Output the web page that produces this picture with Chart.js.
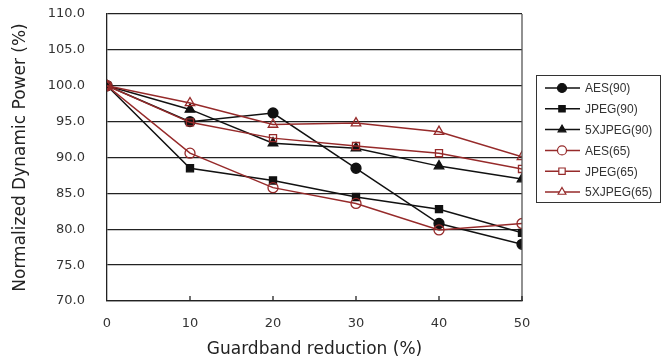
<!DOCTYPE html>
<html>
<head>
<meta charset="utf-8">
<script src="https://cdn.jsdelivr.net/npm/chart.js@4/dist/chart.umd.min.js"></script>
<style>
  html, body { margin: 0; padding: 0; background: #fff; }
  #wrap { width: 669px; height: 364px; }
</style>
</head>
<body>
<div id="wrap"><canvas id="powerChart" width="669" height="364"></canvas></div>
<script>
const xValues = [0, 10, 20, 30, 40, 50];
const aes90 = [100, 95.0, 96.2, 88.5, 80.8, 77.9];
const jpeg90 = [100, 88.5, 86.8, 84.5, 82.8, 79.5];
const xjpeg90 = [100, 96.7, 92.0, 91.3, 88.8, 87.0];
const aes65 = [100, 90.6, 85.8, 83.6, 79.9, 80.8];
const jpeg65 = [100, 94.9, 92.7, 91.6, 90.6, 88.4];
const xjpeg65 = [100, 97.6, 94.6, 94.8, 93.6, 90.1];
const seriesNames = ["AES(90)", "JPEG(90)", "5XJPEG(90)", "AES(65)", "JPEG(65)", "5XJPEG(65)"];

const BLACK = "#111";
const RED = "#962a2a";
const FONT = "'DejaVu Sans', sans-serif";
const LEG_FONT = "'Liberation Sans', Arial, sans-serif";

function series(label, values, color, style, filled, order) {
    return {
        label,
        data: values.map((v, i) => ({ x: xValues[i], y: v })),
        borderColor: color,
        borderWidth: 1.5,
        pointStyle: style,
        pointRadius: style === "triangle" ? 5.5 : 5,
        pointBorderWidth: 1.3,
        pointBorderColor: color,
        pointBackgroundColor: filled ? color : "rgba(255,255,255,0)",
        tension: 0,
        order
    };
}

const datasets = [
    series(seriesNames[0], aes90, BLACK, "circle", true, 1),
    series(seriesNames[1], jpeg90, BLACK, "rect", true, 1),
    series(seriesNames[2], xjpeg90, BLACK, "triangle", true, 1),
    series(seriesNames[3], aes65, RED, "circle", false, 0),
    series(seriesNames[4], jpeg65, RED, "rect", false, 0),
    series(seriesNames[5], xjpeg65, RED, "triangle", false, 0)
];

// inner x ticks, right border and the boxed legend
const framePlugin = {
    id: "frame",
    afterDraw(chart) {
        const { ctx, chartArea: a, scales } = chart;
        ctx.save();
        ctx.strokeStyle = "#555";
        ctx.lineWidth = 1.3;
        ctx.beginPath();
        ctx.moveTo(a.right, a.top);
        ctx.lineTo(a.right, a.bottom);
        ctx.stroke();
        ctx.strokeStyle = "#222";
        xValues.slice(1).forEach(v => {
            const x = scales.x.getPixelForValue(v);
            ctx.beginPath();
            ctx.moveTo(x, a.bottom);
            ctx.lineTo(x, a.bottom - 5);
            ctx.stroke();
        });

        const lx = 536, ly = 75, lw = 124, lh = 127;
        ctx.fillStyle = "#fff";
        ctx.fillRect(lx, ly, lw, lh);
        ctx.strokeStyle = "#333";
        ctx.lineWidth = 1;
        ctx.strokeRect(lx + 0.5, ly + 0.5, lw, lh);
        ctx.font = "12px " + LEG_FONT;
        ctx.textBaseline = "middle";
        chart.data.datasets.forEach((ds, i) => {
            const y = ly + 13 + i * 20.8;
            ctx.strokeStyle = ds.borderColor;
            ctx.lineWidth = 1.5;
            ctx.beginPath();
            ctx.moveTo(lx + 9, y);
            ctx.lineTo(lx + 44, y);
            ctx.stroke();
            ctx.fillStyle = ds.pointBackgroundColor === "rgba(255,255,255,0)" ? "#fff" : ds.pointBackgroundColor;
            ctx.strokeStyle = ds.pointBorderColor;
            ctx.lineWidth = 1.2;
            Chart.helpers.drawPoint(ctx, { pointStyle: ds.pointStyle, radius: 4.5, rotation: 0, borderWidth: 1.2 }, lx + 26, y);
            ctx.fillStyle = "#333";
            ctx.fillText(ds.label, lx + 49, y + 1);
        });
        ctx.restore();
    }
};

new Chart(document.getElementById("powerChart"), {
    type: "line",
    data: { datasets },
    options: {
        responsive: false,
        animation: false,
        layout: { padding: { top: 14, right: 147, left: 0, bottom: 0 } },
        plugins: { legend: { display: false }, tooltip: { enabled: false } },
        scales: {
            x: {
                type: "linear",
                min: 0, max: 50,
                ticks: { stepSize: 10, color: "#333", font: { size: 13, family: FONT }, padding: 7 },
                grid: { display: false },
                border: { color: "#222", width: 1.3 },
                title: { display: true, text: "Guardband reduction (%)", color: "#222", font: { size: 17, family: FONT }, padding: { top: 12 } },
                afterFit(s) { s.height = 63; }
            },
            y: {
                min: 70, max: 110,
                ticks: { stepSize: 5, color: "#333", font: { size: 13, family: FONT }, padding: 22, callback: v => v.toFixed(1) },
                grid: { color: "#222", lineWidth: 1.3, drawTicks: false },
                border: { color: "#222", width: 1.3 },
                title: { display: true, text: "Normalized Dynamic Power (%)", color: "#222", font: { size: 17, family: FONT }, padding: { top: 10, bottom: 0 } },
                afterFit(s) { s.width = 107; s.paddingTop = 0; s.paddingBottom = 0; }
            }
        }
    },
    plugins: [framePlugin]
});
</script>
</body>
</html>
